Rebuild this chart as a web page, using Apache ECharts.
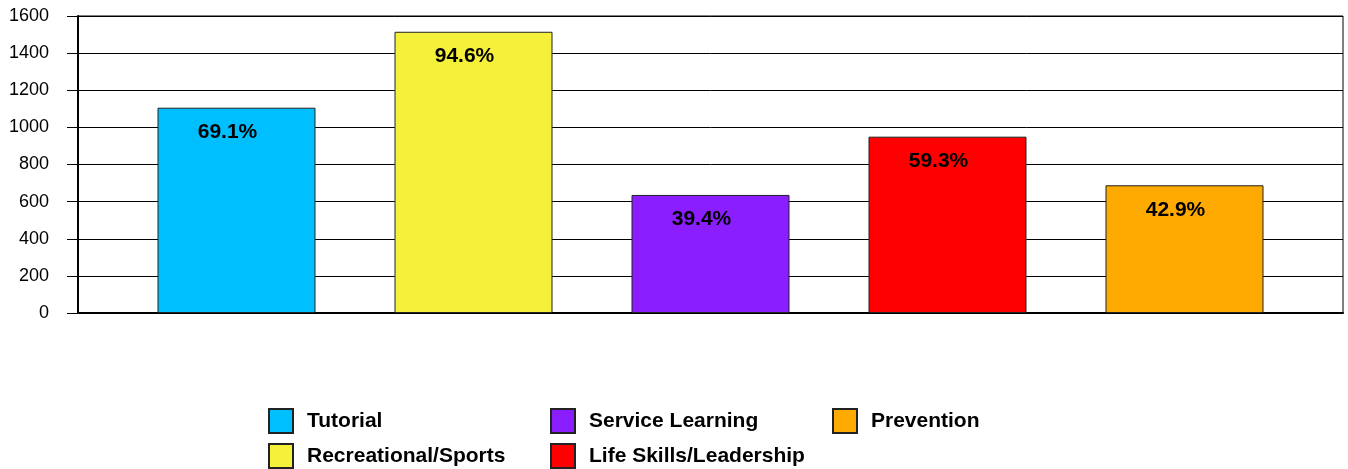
<!DOCTYPE html>
<html>
<head>
<meta charset="utf-8">
<script src="https://cdn.jsdelivr.net/npm/echarts@6/dist/echarts.min.js"></script>
<style>html,body{margin:0;padding:0;background:#fff;}#c{width:1348px;height:469px;}</style>
</head>
<body>
<div id="c"></div>
<script>
const seriesNames = ['Tutorial', 'Recreational/Sports', 'Service Learning', 'Life Skills/Leadership', 'Prevention'];
const seriesValues = [1106, 1515, 636, 950, 688];
const percentLabels = ['69.1%', '94.6%', '39.4%', '59.3%', '42.9%'];
const seriesColors = ['#00BFFF', '#F5F03A', '#8B1EFF', '#FF0000', '#FFAA00'];
const yTicks = [0, 200, 400, 600, 800, 1000, 1200, 1400, 1600];

const FONT = '"Liberation Sans", Arial, sans-serif';
const chart = echarts.init(document.getElementById('c'));

const series = seriesNames.map((name, i) => ({
  name: name,
  type: 'bar',
  data: [seriesValues[i]],
  barWidth: 158,
  barGap: '50%',
  itemStyle: { color: seriesColors[i], borderColor: '#222', borderWidth: 1 },
  label: {
    show: true,
    position: 'insideTop',
    distance: 14,
    offset: [-9, 0],
    formatter: () => percentLabels[i],
    color: '#000',
    fontFamily: FONT,
    fontWeight: 'bold',
    fontSize: 21
  },
  emphasis: { disabled: true },
  animation: false
}));

// legend grid: 3 columns, 2 rows (column-major order)
const legendCols = [268, 550, 832];
const legendRows = [408, 443];
const legends = seriesNames.map((name, i) => ({
  orient: 'horizontal',
  left: legendCols[Math.floor(i / 2)],
  top: legendRows[i % 2],
  padding: 0,
  itemWidth: 24,
  itemHeight: 24,
  icon: 'rect',
  selectedMode: false,
  data: [name],
  textStyle: {
    fontFamily: FONT,
    fontWeight: 'bold',
    fontSize: 21,
    color: '#000',
    padding: [0, 0, 0, 9]
  }
}));

chart.setOption({
  animation: false,
  grid: {
    left: 78, right: 5, top: 16, bottom: 156,
    show: true, borderColor: '#000', borderWidth: 1, containLabel: false
  },
  legend: legends,
  xAxis: {
    type: 'category',
    data: [''],
    axisLine: { lineStyle: { color: '#000', width: 2 } },
    axisTick: { show: false },
    axisLabel: { show: false }
  },
  yAxis: {
    type: 'value',
    min: yTicks[0],
    max: yTicks[yTicks.length - 1],
    interval: 200,
    axisLine: { show: true, lineStyle: { color: '#000', width: 2 } },
    axisTick: { show: true, length: 11, lineStyle: { color: '#000' } },
    axisLabel: { color: '#000', fontFamily: FONT, fontSize: 18, margin: 29, formatter: v => String(v) },
    splitLine: { show: true, lineStyle: { color: '#000', width: 1 } }
  },
  series: series
});
</script>
</body>
</html>
